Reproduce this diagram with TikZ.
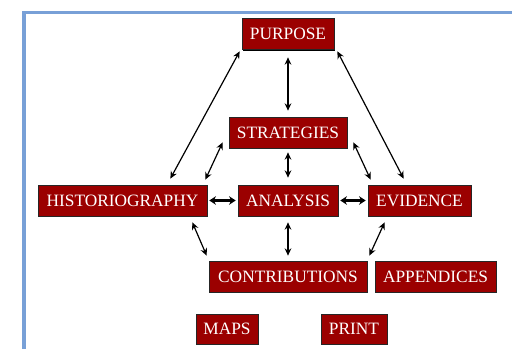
\documentclass[tikz,border=0pt]{standalone}
\usepackage{fontspec}
\setmainfont{Liberation Serif}
\usetikzlibrary{calc,shadows,arrows.meta}
\definecolor{boxred}{RGB}{155,0,0}
\definecolor{frameblue}{RGB}{120,160,215}
\tikzset{
  box/.style={draw=black!85, line width=0.5pt, fill=boxred, text=white,
    inner sep=0pt, minimum height=31*0.75pt, font=\fontsize{13}{14}\selectfont,
    drop shadow={shadow xshift=1pt, shadow yshift=-1pt, fill=black, opacity=1}},
  arr/.style={{Stealth[length=5.5pt,width=5pt]}-{Stealth[length=5.5pt,width=5pt]}, line width=0.9pt, black},
  thick arr/.style={{Stealth[length=5pt,width=6.5pt]}-{Stealth[length=5pt,width=6.5pt]}, line width=2.2pt, black},
}
\begin{document}
\begin{tikzpicture}[x=0.75pt,y=-0.75pt]
\useasboundingbox (0,0) rectangle (512,349);
\draw[frameblue, line width=2.4pt] (24,352) -- (24,12.5) -- (515,12.5);
\node[box, minimum width=92*0.75pt]  (P) at (288,34)    {PURPOSE};
\node[box, minimum width=118*0.75pt] (S) at (288,132.5) {STRATEGIES};
\node[box, minimum width=169*0.75pt] (H) at (122.5,200.5) {HISTORIOGRAPHY};
\node[box, minimum width=100*0.75pt] (A) at (288,200.5) {ANALYSIS};
\node[box, minimum width=103*0.75pt] (E) at (419.5,200.5) {EVIDENCE};
\node[box, minimum width=158*0.75pt] (C) at (288,276.5) {CONTRIBUTIONS};
\node[box, minimum width=121*0.75pt] (X) at (435.5,276.5) {APPENDICES};
\node[box, minimum width=62*0.75pt, minimum height=30*0.75pt] (M) at (227,329) {MAPS};
\node[box, minimum width=66*0.75pt, minimum height=30*0.75pt] (R) at (354,329) {PRINT};
\draw[arr] ($(P.south west)+(-2,1.5)$) -- ($(H.north east)+(-37,-6)$);
\draw[arr] ($(P.south east)+(3,1.5)$) -- ($(E.north west)+(36,-6)$);
\draw[arr] ($(P.south)+(0,7.5)$) -- ($(S.north)+(0,-6)$);
\draw[arr] ($(S.south west)+(-6,-6)$) -- ($(H.north east)+(-2,-5)$);
\draw[arr] ($(S.south east)+(6,-6)$) -- ($(E.north west)+(3,-5)$);
\draw[arr] ($(S.south)+(0,4)$) -- ($(A.north)+(0,-7)$);
\draw[thick arr] ($(H.east)+(2,0)$) -- ($(A.west)+(-2,0)$);
\draw[thick arr] ($(A.east)+(2,0)$) -- ($(E.west)+(-2,0)$);
\draw[arr] ($(H.south east)+(-15,6)$) -- ($(C.north west)+(-2,-5)$);
\draw[arr] ($(A.south)+(0,6)$) -- ($(C.north)+(0,-5)$);
\draw[arr] ($(E.south west)+(17,6)$) -- ($(C.north east)+(2,-5)$);
\end{tikzpicture}
\end{document}
